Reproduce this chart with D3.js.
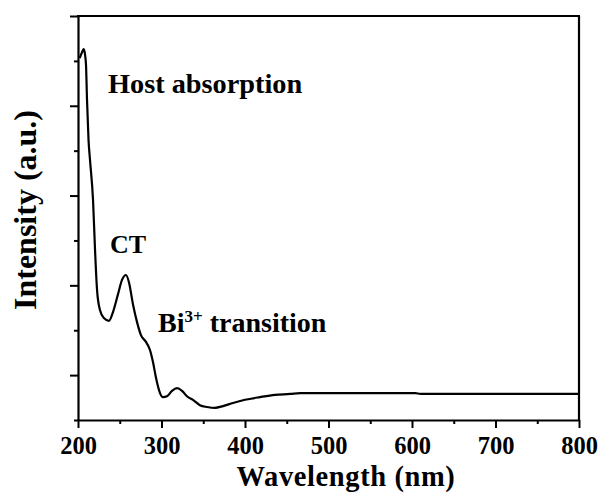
<!DOCTYPE html>
<html>
<head>
<meta charset="utf-8">
<script src="https://cdn.jsdelivr.net/npm/d3@7"></script>
<style>
  body { margin: 0; background: #fff; }
  svg { display: block; }
  .serif { font-family: "Liberation Serif", "Times New Roman", serif; font-weight: 700; }
</style>
</head>
<body>
<svg id="chart" width="605" height="503"></svg>
<script>
// Absorption spectrum: wavelength (nm) and intensity (a.u.)
const wavelength = [202, 205, 207, 208.5, 209.6, 210.8, 212.6, 214.4, 218, 220.4, 222.8, 226.3, 231, 237,
  242, 248, 252.7, 257.5, 261, 266, 270.7, 275.4, 281.4, 286.2, 289.8, 293.4, 298.2, 301.8, 306.6,
  312.6, 318.6, 324.6, 330.5, 337.7, 346, 354.5, 364, 373.7, 385.6, 400, 418, 436, 454, 466, 526,
  604, 610, 705, 800];
const intensity = [8.06, 8.2, 8.26, 8.13, 7.91, 7.13, 6.24, 5.79, 4.9, 3.79, 2.9, 2.45, 2.27, 2.21,
  2.41, 2.81, 3.12, 3.23, 3.07, 2.56, 2.18, 1.89, 1.74, 1.56, 1.29, 0.94, 0.6, 0.51, 0.53,
  0.65, 0.71, 0.65, 0.53, 0.45, 0.33, 0.29, 0.27, 0.31, 0.38, 0.45, 0.51, 0.56, 0.58, 0.6, 0.6,
  0.6, 0.58, 0.58, 0.58];

const xTicks = [200, 250, 300, 350, 400, 450, 500, 550, 600, 650, 700, 750, 800];
const xLabels = [200, 300, 400, 500, 600, 700, 800];
const yTicks = [0, 1, 2, 3, 4, 5, 6, 7, 8, 9];
const yMajor = [1, 3, 5, 7, 9];

const margin = { top: 16, right: 26, bottom: 83, left: 78 };
const W = 605, H = 503;
const svg = d3.select("#chart");

const x = d3.scaleLinear().domain([200, 800]).range([margin.left, W - margin.right]);
const y = d3.scaleLinear().domain([0, 9]).range([H - margin.bottom, margin.top]);

// Bottom axis: long ticks at every 100 nm, short ones in between
const xAxis = d3.axisBottom(x).tickValues(xTicks).tickSizeOuter(0)
  .tickFormat(d => xLabels.includes(d) ? d : "");
const gx = svg.append("g").attr("transform", `translate(0,${y(0)})`).call(xAxis);
gx.attr("font-family", null).attr("font-size", null);
gx.select(".domain").attr("stroke-width", 2.2);
gx.selectAll(".tick line")
  .attr("stroke-width", 2)
  .attr("y2", d => xLabels.includes(d) ? 8 : 4);
gx.selectAll(".tick text")
  .attr("class", "serif")
  .attr("font-size", 24.5)
  .attr("y", 0).attr("dy", 0)
  .attr("transform", "translate(0,34)")
  .attr("fill", "#000");

// Left axis: unlabelled ticks
const yAxis = d3.axisLeft(y).tickValues(yTicks).tickSizeOuter(0).tickFormat("");
const gy = svg.append("g").attr("transform", `translate(${x(200)},0)`).call(yAxis);
gy.select(".domain").attr("stroke-width", 2.2);
gy.selectAll(".tick line")
  .attr("stroke-width", 2)
  .attr("x2", d => yMajor.includes(d) ? -8 : -4);

// Top and right frame lines
svg.append("line").attr("x1", x(200) - 1).attr("x2", x(800) + 1)
  .attr("y1", y(9)).attr("y2", y(9)).attr("stroke", "#000").attr("stroke-width", 2.2);
svg.append("line").attr("x1", x(800)).attr("x2", x(800))
  .attr("y1", y(9)).attr("y2", y(0)).attr("stroke", "#000").attr("stroke-width", 2.2);

// Spectrum curve
const pts = wavelength.map((w, i) => [w, intensity[i]]);
const line = d3.line().x(d => x(d[0])).y(d => y(d[1])).curve(d3.curveMonotoneX);
svg.append("path").datum(pts)
  .attr("fill", "none").attr("stroke", "#000").attr("stroke-width", 2.2)
  .attr("stroke-linejoin", "round")
  .attr("d", line);

// Text helper with the serif bold face
function label(sel, size) {
  return sel.append("text").attr("class", "serif")
    .attr("font-size", size).attr("fill", "#000");
}

// Axis titles
label(svg, 28.5).attr("x", 346).attr("y", 486)
  .attr("text-anchor", "middle").attr("letter-spacing", 0.6)
  .text("Wavelength (nm)");
label(svg, 32).attr("transform", "translate(36,210) rotate(-90)")
  .attr("text-anchor", "middle")
  .text("Intensity (a.u.)");

// Band annotations
label(svg, 28.3).attr("x", 108).attr("y", 93).text("Host absorption");
label(svg, 26).attr("x", 110).attr("y", 253).text("CT");
const bi = label(svg, 28).attr("x", 158).attr("y", 332);
bi.append("tspan").text("Bi");
bi.append("tspan").attr("dy", -10).attr("font-size", 17).text("3+");
bi.append("tspan").attr("dy", 10).text(" transition");
</script>
</body>
</html>
